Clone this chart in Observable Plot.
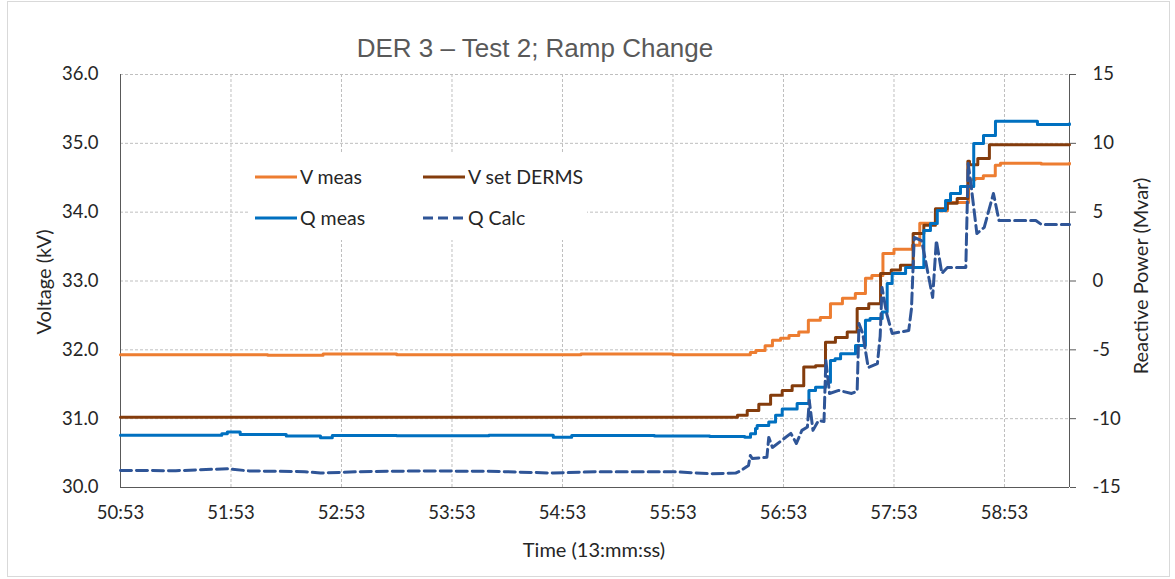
<!DOCTYPE html>
<html><head><meta charset="utf-8">
<script src="https://cdn.jsdelivr.net/npm/d3@7"></script>
<script src="https://cdn.jsdelivr.net/npm/@observablehq/plot@0.6"></script>
<style>
body{margin:0;background:#fff;}
#wrap{position:relative;width:1175px;height:579px;overflow:hidden;font-family:Lato,"Open Sans",sans-serif;color:#404040;}
#frame{position:absolute;left:7px;top:1px;width:1163px;height:576px;border:1px solid #d9d9d9;box-sizing:border-box;}
#chart{position:absolute;left:0;top:0;}
#title{position:absolute;left:235px;width:600px;top:33px;text-align:center;font-family:"Liberation Sans",Arial,sans-serif;font-size:26px;line-height:30px;color:#595959;white-space:nowrap;}
#legend{position:absolute;left:250px;top:153px;width:337px;height:87px;background:#fff;}
.item{position:absolute;height:24px;line-height:24px;font-size:19.5px;white-space:nowrap;}
.item svg{position:absolute;left:0;top:10px;}
.item span{position:absolute;left:45px;top:0;color:#262626;}
.atitle{position:absolute;font-size:20px;white-space:nowrap;transform:translate(-50%,-50%);line-height:24px;color:#262626;}
.rot{transform:translate(-50%,-50%) rotate(-90deg);}
</style></head><body>
<div id="wrap">
  <div id="frame"></div>
  <div id="chart"></div>
  <div id="title"></div>
  <div id="legend"></div>
  <div class="atitle rot" id="ylab" style="left:43px;top:282px;"></div>
  <div class="atitle rot" id="y2lab" style="left:1140px;top:276px;"></div>
  <div class="atitle" id="xlab" style="left:594px;top:549px;"></div>
</div>
<script>
// ---- text ----
const titleText = "DER 3 – Test 2; Ramp Change";
const xTitle = "Time (13:mm:ss)";
const yTitle = "Voltage (kV)";
const y2Title = "Reactive Power (Mvar)";

// ---- axes ----
const tickSeconds = [0, 60, 120, 180, 240, 300, 360, 420, 480]; // seconds after 13:50:53
const tickLabels = ["50:53", "51:53", "52:53", "53:53", "54:53", "55:53", "56:53", "57:53", "58:53"];
const xEnd = 515.3;
const vTicks = [30, 31, 32, 33, 34, 35, 36];

// ---- series (time in s after 13:50:53) ----
const vMeasT = [0, 40, 80, 110, 150, 200, 250, 300, 342, 345, 350, 354, 358.4, 363, 368.3, 373.5, 380, 385.5, 392, 399, 404.5, 408, 414, 420, 430, 434, 442.5, 449, 460.5, 464, 468.5, 475, 477.8, 500, 515.3];
const vMeas  = [31.93, 31.93, 31.92, 31.94, 31.93, 31.93, 31.94, 31.93, 31.96, 31.99, 32.06, 32.14, 32.17, 32.21, 32.26, 32.43, 32.47, 32.67, 32.75, 32.82, 33.04, 33.08, 33.40, 33.46, 33.52, 33.84, 34.02, 34.14, 34.47, 34.49, 34.53, 34.68, 34.71, 34.70, 34.71];

const vSetT = [0, 335, 340.3, 346.6, 353, 359.3, 364.7, 371, 377.4, 382.8, 388.2, 394.6, 400, 406.3, 412.7, 418.5, 423.5, 430.4, 436.2, 442.5, 448.9, 454.3, 460.1, 461, 465.5, 471.8, 515.3];
const vSet  = [31.02, 31.05, 31.12, 31.21, 31.34, 31.41, 31.48, 31.75, 31.77, 32.11, 32.18, 32.26, 32.60, 32.67, 33.11, 33.16, 33.23, 33.69, 33.81, 34.05, 34.13, 34.20, 34.74, 34.69, 34.78, 34.98, 34.98];

const qMeasT = [0, 40, 55, 58, 65, 90, 108.6, 115, 150, 200, 235, 245, 290, 320, 339, 342.1, 344.8, 345.7, 352, 355.7, 359.3, 367.4, 373.8, 377.4, 382.8, 385.5, 388, 391, 399.1, 404.5, 407, 413.6, 416.3, 419, 426.3, 436.2, 439.8, 443.5, 448, 450.7, 456.1, 463.3, 468.6, 475.1, 497.9, 515.3];
const qMeas  = [-11.21, -11.2, -11.1, -10.97, -11.15, -11.25, -11.38, -11.22, -11.24, -11.2, -11.35, -11.22, -11.25, -11.3, -11.35, -11.1, -10.71, -10.49, -10.25, -9.76, -9.3, -8.89, -7.95, -7.71, -7.35, -5.77, -5.65, -5.28, -4.68, -2.86, -2.72, -2.26, -0.18, 0.55, 0.98, 3.67, 4.18, 5.12, 5.85, 6.36, 6.87, 9.99, 10.57, 11.61, 11.37, 11.42];

const qCalcT = [0, 30, 58, 70, 100, 108.6, 130, 160, 200, 235, 260, 300, 320, 334, 337, 341, 342, 343, 351, 352, 354, 359, 364, 367, 370, 373, 374, 376, 379, 382, 383, 385, 390, 397, 400, 401, 403, 406, 411, 412.5, 413.5, 416, 419, 428, 429.5, 431, 435, 441, 443, 446, 449, 459, 460.3, 462, 465, 469, 474, 477, 497, 500, 515.3];
const qCalc  = [-13.76, -13.78, -13.64, -13.8, -13.85, -13.95, -13.85, -13.8, -13.82, -13.95, -13.85, -13.85, -14.0, -13.95, -13.76, -13.4, -12.67, -12.9, -12.8, -11.36, -12.09, -11.58, -11.07, -11.8, -10.85, -10.6, -8.67, -10.85, -10.13, -10.2, -5.77, -8.17, -7.95, -8.17, -8.0, -3.08, -3.81, -6.28, -6.0, -4.0, -0.47, -2.36, -3.81, -3.6, -2.0, 3.16, 2.94, -1.19, 2.94, 0.55, 0.98, 0.98, 8.54, 6.79, 3.45, 3.89, 6.36, 4.40, 4.40, 4.11, 4.11];

const seriesNames = ["V meas", "V set DERMS", "Q meas", "Q Calc"];
const seriesColors = ["#ED7D31", "#843C0C", "#0070C0", "#2F5597"];
const dash = "11,5";

// Q (Mvar, -15..15) mapped onto the voltage scale (30..36)
const qToV = q => 33 + q / 5;
const mk = (T, Y, conv) => T.map((t, i) => ({t, v: conv ? qToV(Y[i]) : Y[i]}));
const dVm = mk(vMeasT, vMeas, false);
const dVs = mk(vSetT, vSet, false);
const dQm = mk(qMeasT, qMeas, true);
const dQc = mk(qCalcT, qCalc, true);

const gridStyle = {stroke: "#bfbfbf", strokeOpacity: 1, strokeDasharray: "3,2", strokeWidth: 1};
const axisColor = "#595959";
const lineStyle = {x: "t", y: "v", strokeWidth: 3, strokeLinejoin: "round"};

const chart = Plot.plot({
  width: 1175, height: 579,
  marginLeft: 120, marginRight: 106, marginTop: 74, marginBottom: 92,
  x: {domain: [0, xEnd]},
  y: {domain: [30, 36]},
  style: {fontFamily: "Lato, 'Open Sans', sans-serif", fontSize: "18.5px", color: "#262626", background: "transparent", overflow: "visible"},
  marks: [
    Plot.gridX(tickSeconds.slice(1), gridStyle),
    Plot.gridY(vTicks.slice(1), gridStyle),
    Plot.axisY(vTicks, {anchor: "left", tickSize: 0, tickPadding: 22, tickFormat: d => d.toFixed(1), label: null}),
    Plot.axisY(vTicks, {anchor: "right", tickSize: 6, tickPadding: 17, stroke: axisColor, tickFormat: d => String(Math.round((d - 33) * 5)), label: null}),
    Plot.axisX(tickSeconds, {anchor: "bottom", tickSize: 0, tickPadding: 18, tickFormat: d => tickLabels[tickSeconds.indexOf(d)], label: null}),
    Plot.ruleX([0], {stroke: axisColor}),
    Plot.ruleX([xEnd], {stroke: axisColor}),
    Plot.ruleY([30], {stroke: axisColor}),
    Plot.line(dVm, {...lineStyle, curve: "step-after", stroke: seriesColors[0]}),
    Plot.line(dVs, {...lineStyle, curve: "step-after", stroke: seriesColors[1]}),
    Plot.line(dQm, {...lineStyle, curve: "step-after", stroke: seriesColors[2]}),
    Plot.line(dQc, {...lineStyle, curve: "linear", stroke: seriesColors[3], strokeDasharray: dash})
  ]
});
document.getElementById("chart").appendChild(chart);

document.getElementById("title").textContent = titleText;
document.getElementById("xlab").textContent = xTitle;
document.getElementById("ylab").textContent = yTitle;
document.getElementById("y2lab").textContent = y2Title;

// legend
const legend = document.getElementById("legend");
const pos = [[5, 12], [173, 12], [5, 53], [173, 53]];
seriesNames.forEach((name, i) => {
  const it = document.createElement("div");
  it.className = "item";
  it.style.left = pos[i][0] + "px";
  it.style.top = (pos[i][1]) + "px";
  it.innerHTML = `<svg width="42" height="4"><line x1="0" y1="2" x2="42" y2="2" stroke="${seriesColors[i]}" stroke-width="3" ${i === 3 ? `stroke-dasharray="10,5"` : ""}/></svg>`;
  const sp = document.createElement("span");
  sp.textContent = name;
  it.appendChild(sp);
  legend.appendChild(it);
});
</script>
</body></html>
